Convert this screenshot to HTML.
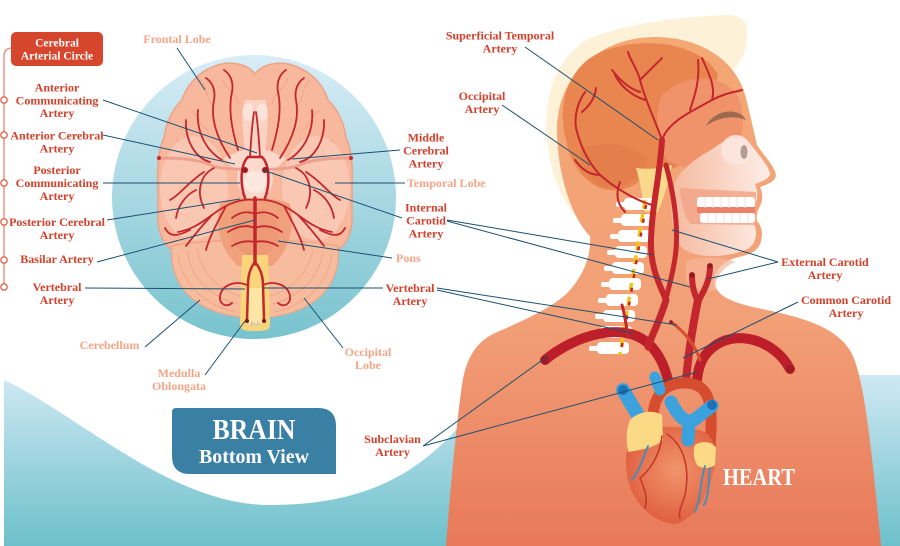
<!DOCTYPE html>
<html><head><meta charset="utf-8">
<style>
html,body{margin:0;padding:0;background:#fff;}
svg{display:block;}
text{font-family:"Liberation Serif",serif;font-weight:bold;}
.r{fill:#d5402b;font-size:12px;}
.p{fill:#f5a586;font-size:12px;}
.w{fill:#ffffff;}
.c{stroke:#1c5072;stroke-width:1;fill:none;}
.a{stroke:#c3272d;fill:none;stroke-linecap:round;stroke-linejoin:round;}
.g{stroke:#ee9d80;stroke-width:0.9;fill:none;opacity:0.8;}
</style></head><body>
<svg width="900" height="546" viewBox="0 0 900 546" xmlns="http://www.w3.org/2000/svg">
<defs>
 <linearGradient id="teal" x1="0" y1="375" x2="0" y2="546" gradientUnits="userSpaceOnUse">
  <stop offset="0" stop-color="#cfe9f4"/><stop offset="1" stop-color="#6dc0ca"/>
 </linearGradient>
 <linearGradient id="circ" x1="0" y1="55" x2="0" y2="339" gradientUnits="userSpaceOnUse">
  <stop offset="0" stop-color="#d8edf7"/><stop offset="1" stop-color="#78c3ce"/>
 </linearGradient>
 <linearGradient id="body" x1="0" y1="37" x2="0" y2="546" gradientUnits="userSpaceOnUse">
  <stop offset="0" stop-color="#f4a874"/><stop offset="0.55" stop-color="#f2a077"/><stop offset="1" stop-color="#e8795a"/>
 </linearGradient>
 <linearGradient id="face" x1="672" y1="0" x2="770" y2="0" gradientUnits="userSpaceOnUse">
  <stop offset="0" stop-color="#f6b99e"/><stop offset="1" stop-color="#fdeee8"/>
 </linearGradient>
 <radialGradient id="heart" cx="676" cy="470" r="62" gradientUnits="userSpaceOnUse">
  <stop offset="0" stop-color="#f2956c"/><stop offset="1" stop-color="#dc573a"/>
 </radialGradient>
</defs>

<rect x="4" y="375" width="896" height="171" fill="url(#teal)"/>
<path d="M0,350 L0,378 C 80,415 170,505 270,505 C 370,505 430,470 480,400 L480,350 Z" fill="#fff"/>

<circle cx="254" cy="197" r="142" fill="url(#circ)"/>

<!-- BRAIN bottom view -->
<path d="M 255,74 C 248,64 230,60 215,66 C 198,72 186,86 182,100 C 172,110 166,122 164,138 C 158,150 157,170 158,190 L 158,222 C 160,240 168,250 178,252 L 332,252 C 342,250 350,240 352,222 L 352,190 C 353,170 352,150 346,138 C 344,122 338,110 328,100 C 324,86 312,72 295,66 C 280,60 262,64 255,74 Z" fill="#f7b89e" stroke="#eea284" stroke-width="1.5"/>
<path class="g" d="M200,80 C210,90 205,100 215,108 M190,110 C200,115 198,125 208,130 M176,140 C186,142 190,150 186,160 M222,78 C226,90 236,92 238,104 M170,175 C180,178 178,190 186,196 M172,215 C180,210 188,216 194,222"/>
<path class="g" d="M310,80 C300,90 305,100 295,108 M320,110 C310,115 312,125 302,130 M334,140 C324,142 320,150 324,160 M288,78 C284,90 274,92 272,104 M340,175 C330,178 332,190 324,196 M338,215 C330,210 322,216 316,222"/>
<ellipse cx="194" cy="188" rx="34" ry="52" fill="#fbd3c2" opacity="0.55"/>
<ellipse cx="316" cy="188" rx="34" ry="52" fill="#fbd3c2" opacity="0.55"/>
<path d="M 172,246 C 168,285 195,317 255,318 C 315,317 342,285 338,246 C 300,238 210,238 172,246 Z" fill="#f6bc9d" stroke="#eca385" stroke-width="1.2"/>
<path class="g" d="M178,254 C182,285 205,305 235,312 M187,251 C191,279 211,297 238,304 M197,249 C201,271 216,289 240,296"/>
<path class="g" d="M332,254 C328,285 305,305 275,312 M323,251 C319,279 299,297 272,304 M313,249 C309,271 294,289 270,296"/>
<path d="M 220,204 C 235,196 275,196 290,204 C 296,228 288,252 272,266 L 238,266 C 222,252 214,228 220,204 Z" fill="#f1a07c"/>
<ellipse cx="255" cy="232" rx="24" ry="24" fill="#ec9572" opacity="0.6"/>
<path d="M 245,100 C 240,112 243,140 246,158 L 264,158 C 267,140 270,112 265,100 Z" fill="#fad3c4"/>
<ellipse cx="248" cy="112" rx="5.5" ry="9" fill="#fce3d9"/>
<ellipse cx="262" cy="112" rx="5.5" ry="9" fill="#fce3d9"/>
<path d="M 238,152 C 248,148 262,148 272,152 L 286,158 C 281,165 276,168 272,172 C 274,182 272,192 262,198 L 248,198 C 238,192 236,182 238,172 C 234,168 229,165 224,158 Z" fill="#fcd9cb"/>
<circle cx="255" cy="182" r="11" fill="#fde8df"/>
<path d="M 245,170 C 235,168 225,170 213,166 C 200,160 185,158 160,158" stroke="#eda08e" stroke-width="3" fill="none"/>
<path d="M 265,170 C 275,168 285,170 297,166 C 310,160 325,158 350,158" stroke="#eda08e" stroke-width="3" fill="none"/>
<circle cx="159" cy="158" r="2" fill="#c3272d"/><circle cx="351" cy="158" r="2" fill="#c3272d"/>
<path d="M 242,255 L 268,255 L 270,325 C 270,330 265,331 255,331 C 245,331 240,330 240,325 Z" fill="#fbd57a"/>
<rect x="246" y="288" width="18" height="36" rx="4" fill="#fde5a4"/>
<path d="M250,324 L260,324 M252,321 L252,327 M258,321 L258,327" stroke="#d9c8b8" stroke-width="1.5"/>
<g class="a" stroke-width="1.8">
 <path d="M 238,150 C 232,130 228,110 232,92 C 234,82 230,74 224,70"/>
 <path d="M 272,150 C 278,130 282,110 278,92 C 276,82 280,74 286,70"/>
 <path d="M 230,158 C 218,140 210,120 214,100 C 216,90 212,82 206,78"/>
 <path d="M 280,158 C 292,140 300,120 296,100 C 294,90 298,82 304,78"/>
 <path d="M 222,160 C 205,150 196,130 198,110"/>
 <path d="M 288,160 C 305,150 314,130 312,110"/>
 <path d="M 210,162 C 195,158 185,140 186,120"/>
 <path d="M 300,162 C 315,158 325,140 324,120"/>
 <path d="M 214,168 C 200,175 196,192 204,208"/>
 <path d="M 296,168 C 310,175 314,192 306,208"/>
 <path d="M 204,172 C 188,182 180,195 170,200"/>
 <path d="M 306,172 C 322,182 330,195 340,200"/>
 <path d="M 212,215 C 200,228 192,238 186,246"/>
 <path d="M 298,215 C 310,228 318,238 324,246"/>
 <path d="M 226,206 C 218,222 210,235 206,250"/>
 <path d="M 284,206 C 292,222 300,235 304,250"/>
 <path d="M 190,230 C 178,236 170,238 165,228"/>
 <path d="M 320,230 C 332,236 340,238 345,228"/>
 <path d="M 196,190 C 186,195 178,205 176,218"/>
 <path d="M 314,190 C 324,195 332,205 334,218"/>
 <path d="M 250,157 C 251,140 252,125 254,112"/>
 <path d="M 260,157 C 259,140 258,125 256,112"/>
 <path d="M 255,200 C 240,198 225,205 212,215 C 200,224 190,230 178,232"/>
 <path d="M 255,200 C 270,198 285,205 298,215 C 310,224 320,230 332,232"/>
 <path d="M 232,218 C 242,210 250,212 255,214 C 260,212 268,210 278,218"/>
 <path d="M 228,232 C 240,224 250,226 255,228 C 260,226 270,224 282,232"/>
 <path d="M 232,246 C 242,240 250,241 255,242 C 260,241 268,240 278,246"/>
 <path d="M 247,285 C 235,280 222,285 220,296 C 219,304 226,308 232,303"/>
 <path d="M 263,285 C 275,280 288,285 290,296 C 291,304 284,308 278,303"/>
</g>
<g class="a" stroke-width="2.5">
 <path d="M 248,157 C 240,165 240,185 245,198"/>
 <path d="M 262,157 C 270,165 270,185 265,198"/>
 <path d="M 248,157 L 262,157"/>
 <path d="M 255,262 C 250,268 248,275 248,285 L 247,320"/>
 <path d="M 255,262 C 260,268 263,275 263,285 L 264,320"/>
</g>
<path class="a" stroke-width="3.5" d="M 255,198 L 255,264"/>
<circle cx="245" cy="170" r="3" fill="#9d1a20"/><circle cx="265" cy="170" r="3" fill="#9d1a20"/>
<circle cx="247" cy="321" r="2" fill="#7d1418"/><circle cx="264" cy="321" r="2" fill="#7d1418"/>

<!-- HEAD + BODY -->
<path d="M 600,236 C 575,225 552,190 547,140 C 544,100 552,60 590,38 C 630,22 690,16 728,15 C 745,15 750,25 746,45 C 744,55 740,62 735,68 L 650,150 Z" fill="#fdf1d8"/>
<path d="M 590,236 C 572,218 557,175 557,128 C 558,75 600,37 655,37 C 700,37 737,60 746,98 C 751,118 754,132 757,145 C 765,157 775,167 776,175 C 775,182 768,184 760,187 C 763,193 763,200 760,206 C 757,212 756,216 757,221 C 763,227 763,237 760,244 C 757,252 748,255 735,258 C 722,262 712,272 715,285 C 718,298 738,304 762,309 C 800,317 836,326 851,352 C 863,375 870,430 881,546 L 446,546 C 451,480 457,420 462,385 C 466,358 476,342 495,333 C 525,320 556,306 570,290 C 584,274 591,256 590,236 Z" fill="url(#body)"/>
<path d="M 686,262 C 700,255 725,258 735,262 C 722,268 714,278 716,290 C 705,292 692,290 686,282 Z" fill="#f6b79a" opacity="0.7"/>
<path d="M 566,140 C 558,110 565,80 585,62 C 605,45 640,40 670,45 C 695,50 712,62 718,75 L 700,130 L 690,160 C 675,170 660,172 648,172 C 640,185 620,195 600,188 C 582,180 570,162 566,140 Z" fill="#e98650"/>
<path d="M 580,150 C 600,140 630,142 648,160 C 640,180 620,192 600,186 C 588,178 582,165 580,150 Z" fill="#e27d4a" opacity="0.8"/>
<path d="M 662,95 C 682,75 722,72 737,95 C 747,115 744,145 727,160 C 707,172 682,170 667,160 C 657,140 654,110 662,95 Z" fill="#f0936a"/>
<path d="M 636,168 C 650,170 662,168 672,165 C 668,185 663,200 658,212 L 645,212 C 642,195 640,180 636,168 Z" fill="#fbd98c"/>
<path d="M 714,148 C 728,136 746,134 752,146 C 760,157 769,166 770,174 C 769,179 763,181 755,184 C 758,191 758,199 755,205 C 752,211 751,216 752,221 C 757,227 757,236 754,242 C 751,249 744,251 732,254 C 712,258 692,256 682,248 C 670,232 668,200 676,180 C 684,166 700,156 714,148 Z" fill="url(#face)"/>
<circle cx="736" cy="150" r="15" fill="#fce6de" opacity="0.9"/>
<ellipse cx="744" cy="152" rx="3.5" ry="7" fill="#b59c92"/>
<path d="M 706,126 C 715,109 739,107 746,120 C 735,115 718,117 706,126 Z" fill="#9c6a4e"/>
<path d="M 680,188 L 756,192 L 756,225 L 690,224 C 684,215 680,200 680,188 Z" fill="#f3a48a" opacity="0.85"/>
<rect x="697" y="197" width="58" height="11" rx="3" fill="#fff"/>
<rect x="697" y="207" width="58" height="6" fill="#ec8068"/>
<rect x="700" y="213" width="55" height="10" rx="3" fill="#fff"/>
<path d="M705,197 v11 M713,197 v11 M721,197 v11 M729,197 v11 M737,197 v11 M745,197 v11 M708,213 v10 M716,213 v10 M724,213 v10 M732,213 v10 M740,213 v10 M748,213 v10" stroke="#f1e1dc" stroke-width="1"/>
<g fill="#fff">
 <rect x="624" y="198" width="32" height="12" rx="4"/><rect x="616" y="202" width="10" height="5" rx="2"/>
 <rect x="621" y="214" width="32" height="12" rx="4"/><rect x="613" y="218" width="10" height="5" rx="2"/>
 <rect x="618" y="230" width="32" height="12" rx="4"/><rect x="610" y="234" width="10" height="5" rx="2"/>
 <rect x="615" y="246" width="32" height="12" rx="4"/><rect x="607" y="250" width="10" height="5" rx="2"/>
 <rect x="612" y="262" width="32" height="12" rx="4"/><rect x="604" y="266" width="10" height="5" rx="2"/>
 <rect x="609" y="278" width="32" height="12" rx="4"/><rect x="601" y="282" width="10" height="5" rx="2"/>
 <rect x="606" y="294" width="32" height="12" rx="4"/><rect x="598" y="298" width="10" height="5" rx="2"/>
 <rect x="603" y="310" width="32" height="12" rx="4"/><rect x="595" y="314" width="10" height="5" rx="2"/>
 <rect x="600" y="326" width="32" height="12" rx="4"/><rect x="592" y="330" width="10" height="5" rx="2"/>
 <rect x="597" y="342" width="32" height="12" rx="4"/><rect x="589" y="346" width="10" height="5" rx="2"/>
</g>
<path d="M 645,200 L 620,355" stroke="#f5c419" stroke-width="3.5" stroke-dasharray="9 5" fill="none"/>
<path d="M 646,205 L 621,352" stroke="#c2272d" stroke-width="2.5" stroke-dasharray="4 10" fill="none"/>
<g class="a" stroke-width="2" stroke="#c8302e">
 <path d="M 662,140 C 668,122 690,112 712,100 C 725,93 735,92 742,90"/>
 <path d="M 690,110 C 695,95 700,80 698,60"/>
 <path d="M 712,100 C 716,86 708,72 702,58"/>
 <path d="M 662,140 C 655,120 645,100 640,80 C 637,68 630,60 628,52"/>
 <path d="M 645,100 C 630,95 620,85 615,75"/>
 <path d="M 640,80 C 650,70 655,65 662,58"/>
 <path d="M 612,70 C 620,80 628,88 640,92"/>
 <path d="M 652,205 C 635,200 615,188 600,175 C 588,162 580,145 576,128 C 574,115 578,102 585,92"/>
 <path d="M 600,175 C 590,175 582,170 575,160"/>
 <path d="M 582,112 C 590,105 595,98 596,88"/>
 <path d="M 620,182 C 615,195 618,205 625,212"/>
</g>
<g class="a" stroke="#c1262c">
 <path stroke-width="6" d="M 662,140 C 660,175 652,205 651,240 C 650,268 660,285 666,300"/>
 <path stroke-width="5" d="M 666,165 C 674,195 678,225 676,250 C 674,272 668,288 666,300"/>
 <path stroke-width="10" stroke="#bd1f2a" d="M 545,360 C 575,335 625,320 650,345 C 660,355 665,368 668,380"/>
 <path stroke-width="10" stroke="#bd1f2a" d="M 790,369 C 775,340 735,328 712,348 C 702,356 698,368 697,380"/>
 <path stroke-width="7" d="M 666,300 C 660,320 652,335 648,347"/>
 <path stroke-width="8" d="M 698,300 C 692,330 688,355 686,382"/>
 <path stroke-width="6" d="M 692,275 C 692,288 695,295 698,302"/>
 <path stroke-width="6" d="M 710,266 C 710,282 703,292 698,302"/>
 <path stroke-width="3" stroke="#d4502e" d="M 671,322 C 685,332 695,345 700,360"/>
 <path stroke-width="3" d="M 628,336 C 626,325 625,315 622,305"/>
</g>
<circle cx="545" cy="360" r="4" fill="#9e1b22"/><circle cx="790" cy="369" r="4" fill="#9e1b22"/>
<circle cx="692" cy="275" r="2.5" fill="#8e1a20"/><circle cx="710" cy="266" r="2.5" fill="#8e1a20"/>
<circle cx="671" cy="322" r="1.8" fill="#8e1a20"/>
<path d="M 655,440 C 650,415 652,385 682,383 C 708,382 712,400 711,430 L 709,468" stroke="#d64c2e" stroke-width="11" fill="none" stroke-linecap="round"/>
<path d="M 632,432 C 624,450 624,475 632,492 C 642,512 660,524 676,524 C 692,520 705,500 712,478 C 718,455 716,440 705,432 C 690,426 650,424 632,432 Z" fill="url(#heart)"/>
<g stroke="#3ba2dd" stroke-linecap="round" fill="none">
 <path stroke-width="14" d="M 623,390 L 642,422"/>
 <path stroke-width="11" d="M 655,377 L 660,390"/>
 <path stroke-width="13" d="M 671,402 C 678,416 686,424 694,420 L 712,406"/>
 <path stroke-width="13" d="M 689,422 L 688,440"/>
</g>
<circle cx="623" cy="390" r="5" fill="#1f6fb5"/>
<circle cx="712" cy="405" r="5" fill="#1f6fb5"/>
<path d="M 630,420 C 640,410 655,410 662,415 L 663,440 C 655,448 640,450 628,452 C 626,440 626,430 630,420 Z" fill="#fbd985"/>
<path d="M 695,445 C 703,440 713,442 716,448 L 715,465 C 708,470 700,468 697,465 C 693,458 693,450 695,445 Z" fill="#fbd985"/>
<g fill="none" stroke-linecap="round">
 <path stroke="#c23a2a" stroke-width="1.6" d="M 662,436 C 660,455 650,470 640,478 M 667,434 C 685,446 690,470 685,495 C 682,505 678,512 680,518 M 640,478 C 645,490 648,498 645,508"/>
 <path stroke="#3a90c0" stroke-width="1.8" d="M 648,446 C 642,460 640,470 632,480 M 705,466 C 700,480 702,495 695,512 M 710,468 C 708,482 710,492 704,505"/>
</g>

<!-- LEFT LIST -->
<path d="M 12,48 C 7,48 4,51 4,56 L 4,287" stroke="#e8846c" stroke-width="1.3" fill="none"/>
<rect x="11" y="32" width="92" height="34" rx="5" fill="#d6462c"/>
<g fill="#fff" stroke="#e0624a" stroke-width="1.3">
 <circle cx="4" cy="100" r="3.2"/><circle cx="4" cy="135" r="3.2"/><circle cx="4" cy="183" r="3.2"/>
 <circle cx="4" cy="222" r="3.2"/><circle cx="4" cy="260" r="3.2"/><circle cx="4" cy="287" r="3.2"/>
</g>
<text x="57" y="46.5" class="w" font-size="11.5" text-anchor="middle">Cerebral</text>
<text x="57" y="59.5" class="w" font-size="11.5" text-anchor="middle">Arterial Circle</text>
<g text-anchor="middle">
 <text x="57" y="91.5" class="r">Anterior</text>
 <text x="57" y="104.3" class="r">Communicating</text>
 <text x="57" y="117" class="r">Artery</text>
 <text x="57" y="139.5" class="r">Anterior Cerebral</text>
 <text x="57" y="152.3" class="r">Artery</text>
 <text x="57" y="174" class="r">Posterior</text>
 <text x="57" y="187" class="r">Communicating</text>
 <text x="57" y="200" class="r">Artery</text>
 <text x="57" y="226" class="r">Posterior Cerebral</text>
 <text x="57" y="239" class="r">Artery</text>
 <text x="57" y="263" class="r">Basilar Artery</text>
 <text x="57" y="291" class="r">Vertebral</text>
 <text x="57" y="304" class="r">Artery</text>
 <text x="426" y="141.5" class="r">Middle</text>
 <text x="426" y="154.5" class="r">Cerebral</text>
 <text x="426" y="167.5" class="r">Artery</text>
 <text x="426" y="211.5" class="r">Internal</text>
 <text x="426" y="224.5" class="r">Carotid</text>
 <text x="426" y="237.5" class="r">Artery</text>
 <text x="410" y="292" class="r">Vertebral</text>
 <text x="410" y="305" class="r">Artery</text>
 <text x="109.5" y="349" class="p">Cerebellum</text>
 <text x="179" y="377" class="p">Medulla</text>
 <text x="179" y="390" class="p">Oblongata</text>
 <text x="368" y="356" class="p">Occipital</text>
 <text x="368" y="369" class="p">Lobe</text>
 <text x="177" y="43" class="p">Frontal Lobe</text>
 <text x="500" y="39.5" class="r">Superficial Temporal</text>
 <text x="500" y="52.5" class="r">Artery</text>
 <text x="482" y="100" class="r">Occipital</text>
 <text x="482" y="113" class="r">Artery</text>
 <text x="825" y="266" class="r">External Carotid</text>
 <text x="825" y="279" class="r">Artery</text>
 <text x="846" y="304" class="r">Common Carotid</text>
 <text x="846" y="317" class="r">Artery</text>
 <text x="392.5" y="443" class="r">Subclavian</text>
 <text x="392.5" y="456" class="r">Artery</text>
</g>
<text x="407" y="187" class="p">Temporal Lobe</text>
<text x="396" y="262" class="p">Pons</text>

<g class="c">
 <path d="M103,100 L257,153"/>
 <path d="M103,135 L235,164"/>
 <path d="M103,183 L240,183"/>
 <path d="M107,220 L240,199"/>
 <path d="M97,262 L255,220"/>
 <path d="M85,288 L245,289"/>
 <path d="M177,48 L205,90"/>
 <path d="M400,150 L292,159"/>
 <path d="M405,183 L335,183"/>
 <path d="M402,218 L263,170"/>
 <path d="M447,220 L653,255 M447,221 L690,287"/>
 <path d="M392,258 L278,241"/>
 <path d="M383,288 L263,288"/>
 <path d="M437,288 L677,325 M437,290 L632,333"/>
 <path d="M145,347 L200,300"/>
 <path d="M205,375 L245,321"/>
 <path d="M343,348 L304,298"/>
 <path d="M525,47 L658,140"/>
 <path d="M502,105 L590,165"/>
 <path d="M778,262 L672,230 M778,262 L708,279"/>
 <path d="M798,302 L683,358"/>
 <path d="M423,446 L548,356 M423,446 L697,372"/>
</g>

<path d="M176,408 L318,408 Q336,408 336,426 L336,474 L190,474 Q172,474 172,456 L172,412 Q172,408 176,408 Z" fill="#3a80a4"/>
<text x="254" y="439" class="w" font-size="28" text-anchor="middle" textLength="83" lengthAdjust="spacingAndGlyphs">BRAIN</text>
<text x="254" y="463" class="w" font-size="19.5" text-anchor="middle" textLength="110" lengthAdjust="spacingAndGlyphs">Bottom View</text>
<text x="759" y="485" class="w" font-size="24" text-anchor="middle" textLength="72" lengthAdjust="spacingAndGlyphs">HEART</text>
</svg>
</body></html>
